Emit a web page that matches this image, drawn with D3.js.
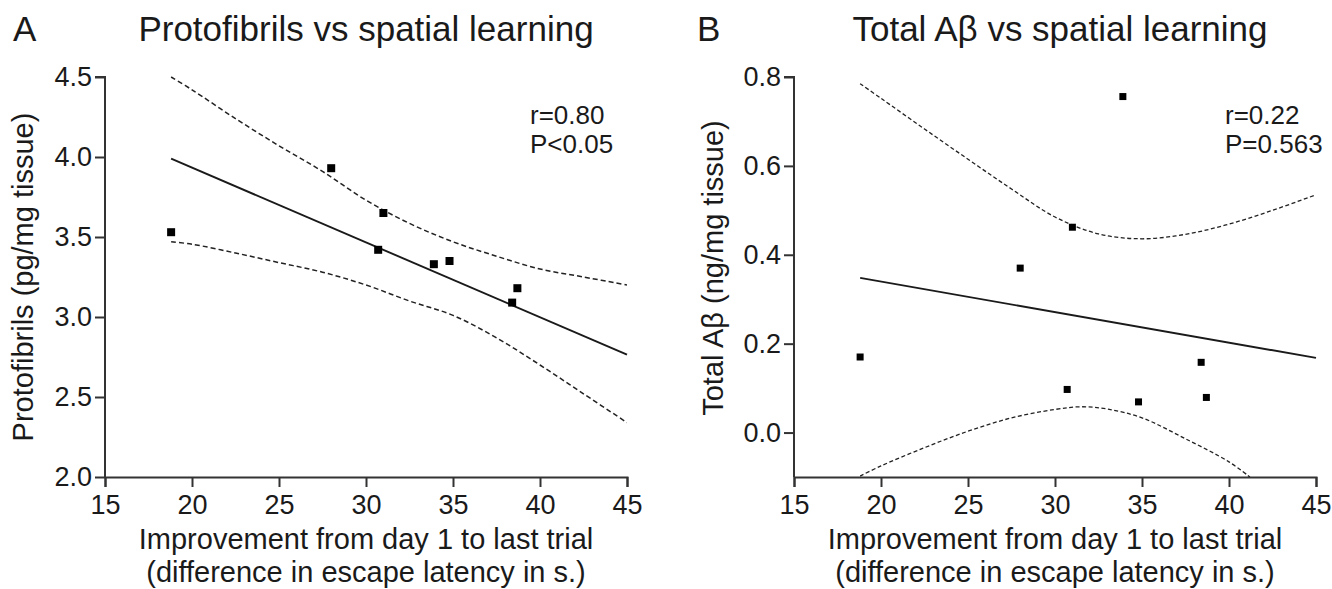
<!DOCTYPE html>
<html lang="en">

<head>
    <meta charset="UTF-8" />
    <title>Protofibrils / Total Abeta vs spatial learning</title>
    <script src="https://d3js.org/d3.v7.min.js"></script>
    <style>
        body {
            margin: 0;
            background: #fff;
        }

        svg text {
            font-family: "Liberation Sans", Arial, sans-serif;
            fill: #1a1a1a;
        }
    </style>
</head>

<body>

    <div id="chart"></div>

    <script>
        // improvement from day 1 to last trial (s), one value per animal
        const improvement = [18.8, 28.0, 30.7, 31.0, 33.9, 34.8, 38.4, 38.7];
        const protofibrils = [3.53, 3.93, 3.42, 3.65, 3.33, 3.35, 3.09, 3.18];
        const totalAb = [0.17, 0.37, 0.097, 0.462, 0.756, 0.069, 0.158, 0.079];

        // regression line end points [x, y]
        const fitA = [[18.8, 3.99], [45, 2.765]];
        const fitB = [[18.8, 0.348], [45, 0.168]];

        // 95% confidence bands
        const bandX = [18.8, 20, 22.5, 25, 27.5, 30, 32.5, 35, 37.5, 40, 42.5, 45];
        const upperA = [4.50, 4.42, 4.24, 4.07, 3.91, 3.73, 3.585, 3.47, 3.38, 3.30, 3.25, 3.20];
        const lowerA = [3.47, 3.455, 3.40, 3.34, 3.28, 3.20, 3.10, 3.01, 2.87, 2.70, 2.52, 2.34];
        const upperB = [0.785, 0.752, 0.683, 0.615, 0.548, 0.485, 0.447, 0.436, 0.446, 0.469, 0.500, 0.535];
        const lowerBX = [18.8, 20, 22.5, 25, 27.5, 30, 31.5, 33, 35, 37.5, 40, 41.2];
        const lowerB = [-0.098, -0.075, -0.034, 0.003, 0.033, 0.052, 0.058, 0.053, 0.033, -0.014, -0.066, -0.100];

        const xTicks = [15, 20, 25, 30, 35, 40, 45];
        const yTicksA = [2.0, 2.5, 3.0, 3.5, 4.0, 4.5];
        const yTicksB = [0.0, 0.2, 0.4, 0.6, 0.8];

        const W = 1332, H = 589;

        const svg = d3.select("#chart")
            .append("svg")
            .attr("width", W)
            .attr("height", H);

        function panel(cfg) {
            const x = d3.scaleLinear().domain([15, 45]).range(cfg.xRange);
            const y = d3.scaleLinear().domain(cfg.yDomain).range([477, 77]);
            const g = svg.append("g");
            const mid = (cfg.xRange[0] + cfg.xRange[1]) / 2;

            // clip for the bands
            g.append("clipPath").attr("id", "clip" + cfg.letter)
                .append("rect")
                .attr("x", cfg.xRange[0]).attr("y", 60)
                .attr("width", cfg.xRange[1] - cfg.xRange[0])
                .attr("height", 477 - 60);

            // Axe X
            const ax = g.append("g")
                .attr("transform", `translate(0,477)`)
                .call(d3.axisBottom(x).tickValues(xTicks).tickSize(10).tickPadding(8).tickFormat(d3.format("d")));
            // Axe Y
            const ay = g.append("g")
                .attr("transform", `translate(${cfg.xRange[0]},0)`)
                .call(d3.axisLeft(y).tickValues(cfg.yTicks).tickSize(10).tickPadding(3).tickFormat(d3.format(".1f")));

            [ax, ay].forEach(a => {
                a.select(".domain").attr("stroke", "#333").attr("stroke-width", 2);
                a.selectAll(".tick line").attr("stroke", "#333").attr("stroke-width", 2);
                a.selectAll(".tick text").style("font-size", "27px")
                    .style("font-family", '"Liberation Sans", Arial, sans-serif').attr("fill", "#1a1a1a");
            });
            // y axis starts at the top tick
            ay.select(".domain").attr("d", `M-10,${y(cfg.yTicks[cfg.yTicks.length - 1])}H0V477`);

            const line = d3.line().x(d => x(d[0])).y(d => y(d[1]));
            const curve = d3.line().curve(d3.curveCatmullRom.alpha(0.5)).x(d => x(d[0])).y(d => y(d[1]));

            // bandes de confiance
            [cfg.upper, cfg.lower].forEach(b => {
                g.append("path")
                    .attr("d", curve(b))
                    .attr("clip-path", `url(#clip${cfg.letter})`)
                    .attr("fill", "none")
                    .attr("stroke", "#222")
                    .attr("stroke-width", cfg.dashW)
                    .attr("stroke-dasharray", cfg.dash);
            });

            // droite de régression
            g.append("path")
                .attr("d", line(cfg.fit))
                .attr("fill", "none")
                .attr("stroke", "#1a1a1a")
                .attr("stroke-width", 1.9);

            // points
            g.selectAll("rect.pt")
                .data(cfg.xs.map((v, i) => [v, cfg.ys[i]]))
                .join("rect")
                .attr("class", "pt")
                .attr("x", d => x(d[0]) - cfg.sq / 2)
                .attr("y", d => y(d[1]) - cfg.sq / 2)
                .attr("width", cfg.sq)
                .attr("height", cfg.sq)
                .attr("fill", "#000");

            // titres
            g.append("text")
                .attr("x", cfg.letterX).attr("y", 41)
                .style("font-size", "35px")
                .text(cfg.letter);
            g.append("text")
                .attr("x", mid + cfg.titleDx).attr("y", 41)
                .attr("text-anchor", "middle")
                .style("font-size", "35px")
                .text(cfg.title);

            // label Y
            g.append("text")
                .attr("transform", `translate(${cfg.yLabelPos[0]},${cfg.yLabelPos[1]}) rotate(-90)`)
                .attr("text-anchor", "middle")
                .style("font-size", "29px")
                .text(cfg.yLabel);

            // label X (2 lignes)
            ["Improvement from day 1 to last trial", "(difference in escape latency in s.)"].forEach((t, i) => {
                g.append("text")
                    .attr("x", mid).attr("y", 549 + i * 33)
                    .attr("text-anchor", "middle")
                    .style("font-size", "29px")
                    .text(t);
            });

            // stats
            cfg.stats.forEach((t, i) => {
                g.append("text")
                    .attr("x", cfg.statsX).attr("y", 124 + i * 29)
                    .style("font-size", "26px")
                    .text(t);
            });
        }

        panel({
            letter: "A",
            letterX: 13,
            title: "Protofibrils vs spatial learning",
            titleDx: 0,
            xRange: [105, 627],
            yDomain: [2.0, 4.5],
            yTicks: yTicksA,
            yLabel: "Protofibrils (pg/mg tissue)",
            yLabelPos: [33, 277],
            xs: improvement,
            ys: protofibrils,
            fit: fitA,
            upper: bandX.map((v, i) => [v, upperA[i]]),
            lower: bandX.map((v, i) => [v, lowerA[i]]),
            dash: "5,3",
            dashW: 1.5,
            sq: 8,
            stats: ["r=0.80", "P<0.05"],
            statsX: 530
        });

        panel({
            letter: "B",
            letterX: 697,
            title: "Total Aβ vs spatial learning",
            titleDx: 5,
            xRange: [794, 1316],
            yDomain: [-0.1, 0.8],
            yTicks: yTicksB,
            yLabel: "Total Aβ (ng/mg tissue)",
            yLabelPos: [723, 268],
            xs: improvement,
            ys: totalAb,
            fit: fitB,
            upper: bandX.map((v, i) => [v, upperB[i]]),
            lower: lowerBX.map((v, i) => [v, lowerB[i]]),
            dash: "4,2.5",
            dashW: 1.3,
            sq: 7,
            stats: ["r=0.22", "P=0.563"],
            statsX: 1225
        });
    </script>

</body>

</html>
